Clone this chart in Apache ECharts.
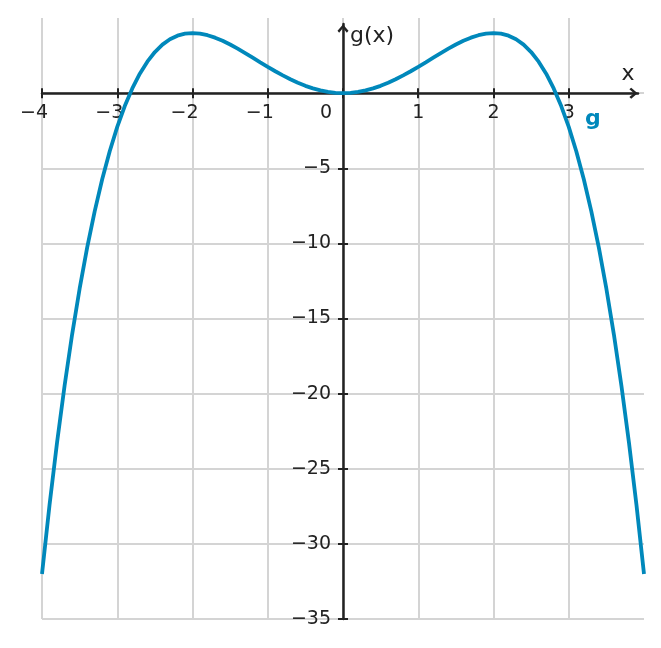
<!DOCTYPE html>
<html>
<head>
<meta charset="utf-8">
<script src="https://cdn.jsdelivr.net/npm/echarts@6/dist/echarts.min.js"></script>
<style>html,body{margin:0;padding:0;background:#fff;}#c{width:661px;height:648px;}</style>
</head>
<body>
<div id="c"></div>
<script>
const xValues = [-4.0,-3.9,-3.8,-3.7,-3.6,-3.5,-3.4,-3.3,-3.2,-3.1,-3.0,-2.9,-2.8,-2.7,-2.6,-2.5,-2.4,-2.3,-2.2,-2.1,-2.0,-1.9,-1.8,-1.7,-1.6,-1.5,-1.4,-1.3,-1.2,-1.1,-1.0,-0.9,-0.8,-0.7,-0.6,-0.5,-0.4,-0.3,-0.2,-0.1,0.0,0.1,0.2,0.3,0.4,0.5,0.6,0.7,0.8,0.9,1.0,1.1,1.2,1.3,1.4,1.5,1.6,1.7,1.8,1.9,2.0,2.1,2.2,2.3,2.4,2.5,2.6,2.7,2.8,2.9,3.0,3.1,3.2,3.3,3.4,3.5,3.6,3.7,3.8,3.9,4.0];
const gValues = [-32,-27.416,-23.248,-19.474,-16.070,-13.016,-10.288,-7.868,-5.734,-3.868,-2.25,-0.862,0.314,1.294,2.096,2.734,3.226,3.584,3.824,3.958,4,3.962,3.856,3.692,3.482,3.234,2.960,2.666,2.362,2.054,1.75,1.456,1.178,0.920,0.688,0.484,0.314,0.178,0.080,0.020,0,0.020,0.080,0.178,0.314,0.484,0.688,0.920,1.178,1.456,1.75,2.054,2.362,2.666,2.960,3.234,3.482,3.692,3.856,3.962,4,3.958,3.824,3.584,3.226,2.734,2.096,1.294,0.314,-0.862,-2.25,-3.868,-5.734,-7.868,-10.288,-13.016,-16.070,-19.474,-23.248,-27.416,-32];
const xTickValues = [-4,-3,-2,-1,0,1,2,3];
const yTickValues = [-35,-30,-25,-20,-15,-10,-5];
const seriesName = 'g';
const xName = 'x';
const yName = 'g(x)';

const W = 661, H = 648;
const G = {left: 42, right: 17, top: 18, bottom: 29};
const xMin = -4, xMax = 4, yMin = -35, yMax = 5;
const arrowTrimX = 6, arrowTrimY = 6;
const pxPerX = (W - G.left - G.right) / (xMax - xMin);
const pxPerY = (H - G.top - G.bottom) / (yMax - yMin);
const xMax2 = xMax - arrowTrimX / pxPerX;
const yMax2 = yMax - arrowTrimY / pxPerY;
// offsets that move the axes onto the zero lines (derived from the scales)
const offBottom = -(0 - yMin) * pxPerY;
const offTop = -(yMax2 - 0) * pxPerY;
const offLeft = -(0 - xMin) * pxPerX;
const offRight = -(xMax2 - 0) * pxPerX;

const ink = '#222222';
const curve = '#0088bb';
const font = 'DejaVu Sans';
const chevron = 'path://M6 0 L12 7 L10.2 9 L6 4 L1.8 9 L0 7 Z';

const chart = echarts.init(document.getElementById('c'), null, {renderer: 'canvas'});

const hiddenAxisParts = {axisLine: {show: false}, axisTick: {show: false}, axisLabel: {show: false}};
const tickStyle = {color: ink, width: 2};

chart.setOption({
  animation: false,
  backgroundColor: '#ffffff',
  textStyle: {fontFamily: font},
  legend: {
    data: [seriesName],
    left: 580, top: 108,
    padding: 0,
    icon: 'none',
    itemWidth: 0, itemHeight: 0, itemGap: 0,
    selectedMode: false,
    textStyle: {color: curve, fontWeight: 'bold', fontSize: 22, fontFamily: font}
  },
  grid: [
    {left: G.left, right: G.right, top: G.top, bottom: G.bottom, outerBoundsMode: 'none'},
    {left: G.left, right: G.right + arrowTrimX, top: G.top + arrowTrimY, bottom: G.bottom, outerBoundsMode: 'none'}
  ],
  xAxis: [
    Object.assign({type: 'value', gridIndex: 0, min: xMin, max: xMax, interval: 1,
      splitLine: {show: true, showMinLine: true, showMaxLine: false, lineStyle: {color: '#d4d4d4', width: 2}}}, hiddenAxisParts),
    {type: 'value', gridIndex: 1, min: xMin, max: xMax2, position: 'bottom', offset: offBottom,
      splitLine: {show: false},
      axisLine: {show: true, onZero: false, lineStyle: {color: ink, width: 2.5},
        symbol: ['none', chevron], symbolSize: [11, 9], symbolOffset: [0, -4.5]},
      axisTick: {show: true, customValues: xTickValues, length: 5, inside: false, lineStyle: tickStyle},
      axisLabel: {show: true, customValues: xTickValues, margin: 10, color: ink, fontSize: 19, fontFamily: font,
        formatter: function (v) {
          if (v === 0) return '{z|0}';
          if (v < 0) return '{n|\u2212' + Math.abs(v) + '}';
          return '{p|' + v + '}';
        },
        rich: {
          z: {padding: [0, 34, 0, 0], fontSize: 19, color: ink, fontFamily: font},
          n: {padding: [0, 16, 0, 0], fontSize: 19, color: ink, fontFamily: font},
          p: {fontSize: 19, color: ink, fontFamily: font}
        }},
      name: xName, nameLocation: 'end', nameGap: -10,
      nameTextStyle: {color: ink, fontSize: 22, fontFamily: font, align: 'center', verticalAlign: 'bottom', padding: [0, 0, 8, 0]}
    },
    {type: 'value', gridIndex: 1, min: xMin, max: xMax2, position: 'top', offset: offTop,
      splitLine: {show: false},
      axisLine: {show: false, onZero: false},
      axisTick: {show: true, customValues: xTickValues, length: 5, inside: false, lineStyle: tickStyle},
      axisLabel: {show: false}
    }
  ],
  yAxis: [
    Object.assign({type: 'value', gridIndex: 0, min: yMin, max: yMax, interval: 5,
      splitLine: {show: true, showMinLine: true, showMaxLine: false, lineStyle: {color: '#d4d4d4', width: 2}}}, hiddenAxisParts),
    {type: 'value', gridIndex: 1, min: yMin, max: yMax2, position: 'left', offset: offLeft,
      splitLine: {show: false},
      axisLine: {show: true, onZero: false, lineStyle: {color: ink, width: 2.5},
        symbol: ['none', chevron], symbolSize: [11, 9], symbolOffset: [0, -4.5]},
      axisTick: {show: true, customValues: yTickValues, length: 5, inside: false, lineStyle: tickStyle},
      axisLabel: {show: true, customValues: yTickValues, margin: 12, color: ink, fontSize: 19, fontFamily: font,
        formatter: function (v) { return v < 0 ? '\u2212' + Math.abs(v) : String(v); }},
      name: yName, nameLocation: 'end', nameGap: -12,
      nameTextStyle: {color: ink, fontSize: 22, fontFamily: font, align: 'left', verticalAlign: 'middle', padding: [0, 0, 0, 7]}
    },
    {type: 'value', gridIndex: 1, min: yMin, max: yMax2, position: 'right', offset: offRight,
      splitLine: {show: false},
      axisLine: {show: false, onZero: false},
      axisTick: {show: true, customValues: yTickValues, length: 5, inside: false, lineStyle: tickStyle},
      axisLabel: {show: false}
    }
  ],
  series: [{
    name: seriesName,
    type: 'line',
    xAxisIndex: 0, yAxisIndex: 0,
    data: xValues.map(function (x, i) { return [x, gValues[i]]; }),
    showSymbol: false,
    smooth: false,
    z: 3,
    lineStyle: {color: curve, width: 3.8},
    itemStyle: {color: curve}
  }]
});
</script>
</body>
</html>
